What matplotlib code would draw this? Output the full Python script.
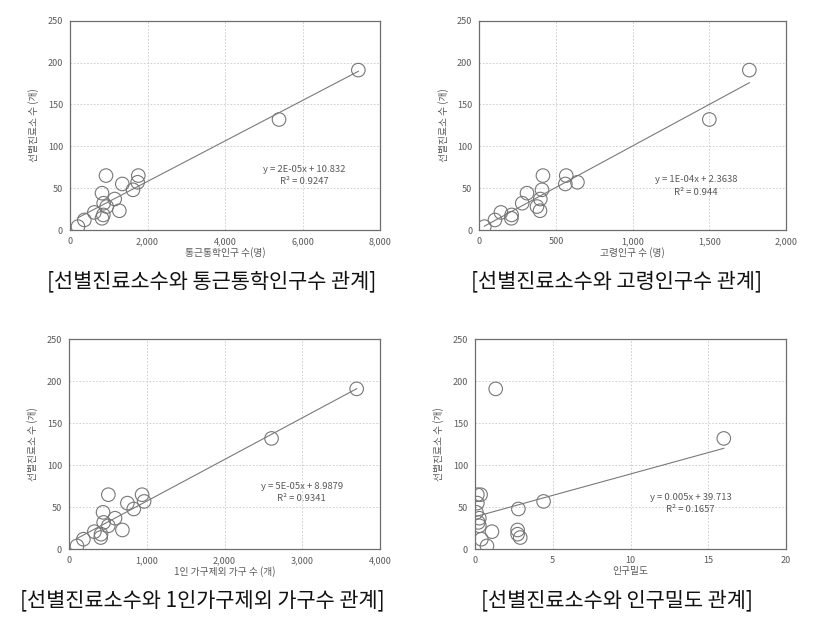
import numpy as np
import matplotlib
matplotlib.use("Agg")
import matplotlib.pyplot as plt
from matplotlib.ticker import FuncFormatter, MultipleLocator

plt.rcParams['font.family'] = ['Noto Sans CJK KR', 'DejaVu Sans']

# ---- data ----
clinics = [191, 132, 65, 65, 57, 55, 48, 44, 37, 32, 28, 23, 21, 18, 14, 12, 4]

commuters = [7441, 5394, 929, 1763, 1746, 1350, 1626, 826, 1153, 869, 946, 1273, 628, 860, 826, 370, 206]
elderly = [1761, 1500, 415, 567, 640, 561, 409, 311, 398, 280, 376, 396, 141, 211, 209, 102, 33]
households = [3700, 2605, 506, 940, 966, 751, 833, 438, 592, 446, 506, 687, 326, 412, 408, 185, 103]
density = [1.33, 16.0, 0.15, 0.36, 4.41, 0.15, 2.79, 0.09, 0.28, 0.21, 0.28, 2.74, 1.09, 2.74, 2.91, 0.41, 0.77]

x_labels = ["통근통학인구 수(명)", "고령인구 수 (명)", "1인 가구제외 가구 수 (개)", "인구밀도"]
y_label = "선별진료소 수 (개)"
equations = ["y = 2E-05x + 10.832", "y = 1E-04x + 2.3638", "y = 5E-05x + 8.9879", "y = 0.005x + 39.713"]
r2_texts = ["R² = 0.9247", "R² = 0.944", "R² = 0.9341", "R² = 0.1657"]
captions = ["[선별진료소수와 통근통학인구수 관계]", "[선별진료소수와 고령인구수 관계]",
            "[선별진료소수와 1인가구제외 가구수 관계]", "[선별진료소수와 인구밀도 관계]"]
x_max = [8000, 2000, 4000, 20]
x_step = [2000, 500, 1000, 5]

# ---- layout ----
W, H = 831, 618
fig = plt.figure(figsize=(W / 100, H / 100), dpi=100)

def frac(left, top, right, bottom):
    return [left / W, 1 - bottom / H, (right - left) / W, (bottom - top) / H]

rects = [frac(70, 20.7, 380, 230), frac(479.3, 20.7, 786, 230),
         frac(69, 339.3, 380, 549.3), frac(475, 339.3, 786, 549.3)]
eq_pos = [(304, 169), (695.7, 180), (301.7, 486.3), (690.7, 497)]
cap_pos = [(212, 281), (617, 281), (202, 600), (617, 600)]

xs_all = [commuters, elderly, households, density]
grey_text = '#595959'

def thousands(v, _):
    if abs(v - round(v)) < 1e-9:
        return f"{int(round(v)):,}"
    return f"{v:g}"

for i in range(4):
    ax = fig.add_axes(rects[i])
    x = np.array(xs_all[i], dtype=float)
    y = np.array(clinics, dtype=float)
    ax.scatter(x, y, s=95, facecolors='none', edgecolors='#777777', linewidths=0.8, zorder=3)
    k, b = np.polyfit(x, y, 1)
    xl = np.array([x.min(), x.max()])
    ax.plot(xl, k * xl + b, color='#7a7a7a', lw=0.8, zorder=2)
    ax.set_xlim(0, x_max[i])
    ax.set_ylim(0, 250)
    ax.xaxis.set_major_locator(MultipleLocator(x_step[i]))
    ax.yaxis.set_major_locator(MultipleLocator(50))
    ax.xaxis.set_major_formatter(FuncFormatter(thousands))
    ax.grid(True, color='#c8c8c8', linestyle=(0, (2, 2)), lw=0.6)
    ax.set_axisbelow(True)
    ax.tick_params(length=0, labelsize=6.5, labelcolor=grey_text, pad=5)
    for s in ax.spines.values():
        s.set_color('#6e6e6e')
        s.set_linewidth(0.9)
    ax.set_xlabel(x_labels[i], fontsize=7, color=grey_text, labelpad=0.5)
    ax.set_ylabel(y_label, fontsize=7, color=grey_text, labelpad=6)
    ex, ey = eq_pos[i]
    fig.text(ex / W, 1 - ey / H, equations[i], fontsize=6.8, color=grey_text, ha='center', va='center')
    fig.text(ex / W, 1 - (ey + 12.5) / H, r2_texts[i], fontsize=6.8, color=grey_text, ha='center', va='center')
    cx, cy = cap_pos[i]
    fig.text(cx / W, 1 - cy / H, captions[i], fontsize=15, color='#111111', ha='center', va='center')

fig.savefig("out.png", dpi=100, facecolor='white')
